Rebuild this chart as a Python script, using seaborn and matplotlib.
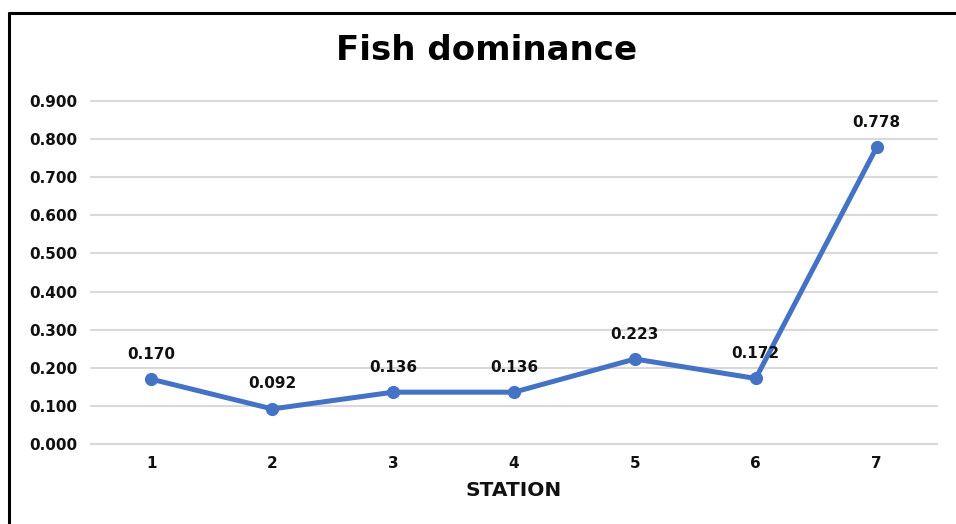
import matplotlib
matplotlib.use("Agg")
import matplotlib.pyplot as plt
from matplotlib.lines import Line2D
import seaborn as sns
import pandas as pd

stations = [1, 2, 3, 4, 5, 6, 7]
dominance = [0.170, 0.092, 0.136, 0.136, 0.223, 0.172, 0.778]
y_ticks = [0.0, 0.1, 0.2, 0.3, 0.4, 0.5, 0.6, 0.7, 0.8, 0.9]

sns.set_theme(style="white")
plt.rcParams["font.family"] = ["DejaVu Sans"]

df = pd.DataFrame({"STATION": stations, "Dominance": dominance})

fig = plt.figure(figsize=(9.56, 5.24), dpi=100)
ax = fig.add_axes([91 / 956, 1 - 444 / 524, (937 - 91) / 956, (444 - 101) / 524])

line_color = "#4472C4"
sns.lineplot(data=df, x="STATION", y="Dominance", ax=ax, color=line_color,
             linewidth=3.6, marker="o", markersize=9.5, markeredgewidth=0,
             zorder=3)

ax.set_xlim(0.5, 7.5)
ax.set_ylim(0, 0.9)
ax.set_yticks(y_ticks)
ax.set_yticklabels([f"{v:.3f}" for v in y_ticks])
ax.set_xticks(stations)
ax.set_xticklabels([str(s) for s in stations])
ax.yaxis.grid(True, color="#D9D9D9", linewidth=1.5)
ax.xaxis.grid(False)
for gl in ax.get_ygridlines():
    gl.set_clip_on(False)
ax.set_axisbelow(True)
for s in ax.spines.values():
    s.set_visible(False)
ax.spines["bottom"].set_visible(True)
ax.spines["bottom"].set_color("#D9D9D9")
ax.spines["bottom"].set_linewidth(1.5)

ax.tick_params(axis="y", length=0, pad=10, labelsize=11, colors="#111111")
ax.tick_params(axis="x", length=0, pad=9, labelsize=11, colors="#111111")
for lab in ax.get_xticklabels() + ax.get_yticklabels():
    lab.set_fontweight("bold")

ax.set_ylabel("")
ax.set_xlabel("STATION", fontsize=14.5, fontweight="bold", color="#111111",
              labelpad=7)

for x, y in zip(stations, dominance):
    ax.annotate(f"{y:.3f}", (x, y), xytext=(0, 18), textcoords="offset points",
                ha="center", va="center", fontsize=11, fontweight="bold",
                color="#111111", zorder=4)

fig.text(487 / 956, 1 - 50 / 524, "Fish dominance", ha="center", va="center",
         fontsize=24.5, fontweight="bold", color="black")

# partial frame around the chart
fig.add_artist(Line2D([9 / 956, 9 / 956], [0, 1 - 13 / 524],
                      transform=fig.transFigure, color="black", linewidth=2.2))
fig.add_artist(Line2D([9 / 956, 1], [1 - 13 / 524, 1 - 13 / 524],
                      transform=fig.transFigure, color="black", linewidth=2.2))

fig.savefig("out.png", dpi=100, facecolor="white")
